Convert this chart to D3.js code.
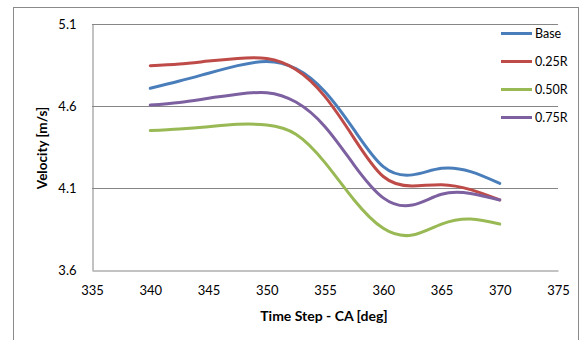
<!DOCTYPE html>
<html>
<head>
<meta charset="utf-8">
<script src="https://cdn.jsdelivr.net/npm/d3@7"></script>
<style>
  body { margin: 0; background: #fff; }
  text { font-family: Lato, "Liberation Sans", sans-serif; fill: #000; }
</style>
</head>
<body>
<div id="chart"></div>
<script>
// crank angle steps
const steps = [340, 342.5, 345, 347.5, 350, 352.5, 355, 357.5, 360, 362.5, 365, 367.5, 370];
const base = [4.708, 4.752, 4.800, 4.846, 4.872, 4.828, 4.687, 4.454, 4.23, 4.18, 4.22, 4.20, 4.128];
const r025 = [4.846, 4.856, 4.874, 4.890, 4.889, 4.822, 4.657, 4.403, 4.17, 4.112, 4.12, 4.09, 4.027];
const r050 = [4.450, 4.460, 4.474, 4.488, 4.484, 4.428, 4.255, 4.027, 3.854, 3.813, 3.88, 3.911, 3.88];
const r075 = [4.606, 4.622, 4.647, 4.671, 4.681, 4.624, 4.474, 4.240, 4.040, 3.996, 4.062, 4.067, 4.027];
const seriesNames = ["Base", "0.25R", "0.50R", "0.75R"];
const colors = ["#4A7EBB", "#BE4B48", "#98B954", "#7D60A0"];
const xTicks = [335, 340, 345, 350, 355, 360, 365, 370, 375];
const yTicks = [3.6, 4.1, 4.6, 5.1];

const width = 580, height = 340;
const svg = d3.select("#chart").append("svg")
  .attr("width", width)
  .attr("height", height);

// chart area frame
svg.append("rect")
  .attr("x", 13.5).attr("y", 7.5)
  .attr("width", 565).attr("height", 340)
  .attr("fill", "#fff").attr("stroke", "#8a8a8a");

const x = d3.scaleLinear().domain([335, 375]).range([92, 558]);
const y = d3.scaleLinear().domain([3.6, 5.1]).range([270, 24]);

// gridlines
svg.append("g").selectAll("line")
  .data(yTicks.slice(1))
  .enter().append("line")
  .attr("x1", 92).attr("x2", 558)
  .attr("y1", d => Math.round(y(d)) + 0.5)
  .attr("y2", d => Math.round(y(d)) + 0.5)
  .attr("stroke", "#868686");

// axes
const yAxis = svg.append("g")
  .attr("transform", "translate(92.5,0)")
  .call(d3.axisLeft(y).tickValues(yTicks).tickFormat(d3.format(".1f")).tickSize(0).tickPadding(16));
yAxis.select(".domain").attr("stroke", "#868686");
yAxis.selectAll("text").style("font-size", "13px");

const xAxis = svg.append("g")
  .attr("transform", "translate(0,270.5)")
  .call(d3.axisBottom(x).tickValues(xTicks).tickFormat(d3.format("d")).tickSize(0).tickPadding(15));
xAxis.select(".domain").attr("stroke", "#868686");
xAxis.selectAll("text").style("font-size", "13px");

// axis titles
svg.append("text")
  .attr("transform", "translate(47,148) rotate(-90)")
  .attr("text-anchor", "middle")
  .style("font-size", "13.5px").style("font-weight", "bold")
  .text("Velocity [m/s]");

svg.append("text")
  .attr("x", 324).attr("y", 321)
  .attr("text-anchor", "middle")
  .style("font-size", "14px").style("font-weight", "bold")
  .text("Time Step - CA [deg]");

// series lines
const line = d3.line()
  .x(d => x(d[0]))
  .y(d => y(d[1]))
  .curve(d3.curveNatural);

const allSeries = [base, r025, r050, r075];
allSeries.forEach((vals, i) => {
  svg.append("path")
    .datum(steps.map((s, j) => [s, vals[j]]))
    .attr("fill", "none")
    .attr("stroke", colors[i])
    .attr("stroke-width", 3)
    .attr("stroke-linecap", "round")
    .attr("d", line);
});

// legend
const legend = svg.append("g");
seriesNames.forEach((name, i) => {
  const ly = 33.5 + i * 28;
  legend.append("line")
    .attr("x1", 501).attr("x2", 532)
    .attr("y1", ly).attr("y2", ly)
    .attr("stroke", colors[i])
    .attr("stroke-width", 3);
  legend.append("text")
    .attr("x", 535).attr("y", ly + 4)
    .style("font-size", "12.5px")
    .text(name);
});
</script>
</body>
</html>
